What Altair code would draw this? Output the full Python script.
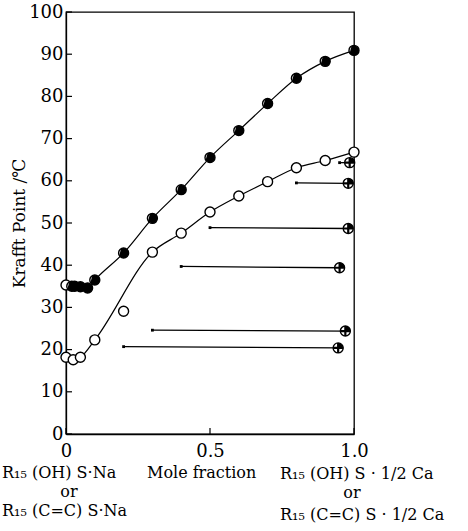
import altair as alt
import pandas as pd

# Krafft point vs. mole fraction of the calcium salt
upper_x = [0.0, 0.02, 0.03, 0.05, 0.075, 0.1, 0.2, 0.3, 0.4, 0.5, 0.6, 0.7, 0.8, 0.9, 1.0]
upper_t = [35.3, 35.0, 35.0, 34.9, 34.6, 36.5, 42.9, 51.1, 57.9, 65.5, 71.9, 78.3, 84.3, 88.3, 90.9]

lower_x = [0.0, 0.025, 0.05, 0.1, 0.2, 0.3, 0.4, 0.5, 0.6, 0.7, 0.8, 0.9, 1.0]
lower_t = [18.2, 17.6, 18.2, 22.3, 29.1, 43.1, 47.6, 52.6, 56.4, 59.8, 63.1, 64.8, 66.8]
lower_off_curve = [0.2]  # measured point not followed by the fitted curve

# horizontal tie lines: start (x0, t0) -> end marker (x1, t1)
tie_x0 = [0.95, 0.80, 0.50, 0.40, 0.30, 0.20]
tie_t0 = [64.3, 59.5, 48.9, 39.7, 24.6, 20.7]
tie_x1 = [0.985, 0.98, 0.98, 0.95, 0.97, 0.945]
tie_t1 = [64.3, 59.4, 48.7, 39.4, 24.4, 20.4]

y_ticks = list(range(0, 101, 10))
x_ticks = [0.0, 0.5, 1.0]

SERIF = "DejaVu Serif"
W, H = 288, 422

upper = pd.DataFrame({"x": upper_x, "t": upper_t})
lower = pd.DataFrame({"x": lower_x, "t": lower_t})
lower_curve = lower[~lower["x"].isin(lower_off_curve)]
ties = pd.DataFrame({"x0": tie_x0, "t0": tie_t0, "x1": tie_x1, "t1": tie_t1})

xs = alt.Scale(domain=[0, 1], nice=False, zero=False)
ys = alt.Scale(domain=[0, 100], nice=False)

x_axis = alt.Axis(values=x_ticks, labelExpr="datum.value == 0 ? '0' : format(datum.value, '.1f')",
                  title=None, ticks=False, grid=False, labelPadding=8, labelFlush=False,
                  labelFont=SERIF, labelFontSize=18, labelColor="black")
y_axis = alt.Axis(values=y_ticks, title="Krafft Point /℃", ticks=False, grid=False,
                  labelPadding=3, titlePadding=0, labelFont=SERIF, labelFontSize=18,
                  labelColor="black", titleFont=SERIF, titleFontSize=17,
                  titleFontWeight="normal", titleColor="black")

X = lambda f: alt.X(f, type="quantitative", scale=xs, axis=x_axis)
Y = lambda f: alt.Y(f, type="quantitative", scale=ys, axis=y_axis)

upper_line = alt.Chart(upper).mark_line(color="black", strokeWidth=1.2, interpolate="monotone").encode(
    x=X("x"), y=Y("t"))
lower_line = alt.Chart(lower_curve).mark_line(color="black", strokeWidth=1.2, interpolate="monotone").encode(
    x=X("x"), y=Y("t"))

tie_rules = alt.Chart(ties).mark_rule(color="black", strokeWidth=1.3).encode(
    x=X("x0"), x2="x1", y=Y("t0"), y2="t1")
tie_start = alt.Chart(ties).mark_point(shape="square", filled=True, color="black", size=8, opacity=1).encode(
    x=X("x0"), y=Y("t0"))

ring = dict(shape="circle", filled=True, fill="white", stroke="black", strokeWidth=1.4, size=100, opacity=1)

lower_pts = alt.Chart(lower).mark_point(**ring).encode(x=X("x"), y=Y("t"))

upper_ring = alt.Chart(upper).mark_point(**ring).encode(x=X("x"), y=Y("t"))
upper_fill = alt.Chart(upper[upper["x"] > 0]).mark_point(
    shape="M-0.5,-0.87A1,1 0 1,1 -0.87,0.5Z", filled=True, color="black", size=100, opacity=1
).encode(x=X("x"), y=Y("t"))

end_ring = alt.Chart(ties).mark_point(**ring).encode(x=X("x1"), y=Y("t1"))
end_cross = alt.Chart(ties).mark_point(
    shape="M-1,0L1,0M0,-1L0,1", filled=False, color="black", strokeWidth=2.2, size=100, opacity=1
).encode(x=X("x1"), y=Y("t1"))
end_fill = alt.Chart(ties).mark_point(
    shape="M0,-1A1,1 0 0,1 1,0L0,0Z", filled=True, color="black", size=100, opacity=1
).encode(x=X("x1"), y=Y("t1"))

# inward-pointing tick marks
ytick_df = pd.DataFrame({"t": y_ticks})
yticks = alt.Chart(ytick_df).mark_rule(color="black", strokeWidth=1.2).encode(
    y=Y("t"), x=alt.value(0), x2=alt.value(6))
xtick_df = pd.DataFrame({"x": x_ticks})
xticks = alt.Chart(xtick_df).mark_rule(color="black", strokeWidth=1.2).encode(
    x=X("x"), y=alt.value(H), y2=alt.value(H - 6))

# compound names under the x axis
labels = pd.DataFrame({
    "text": ["R₁₅ (OH) S·Na", "Mole  fraction", "R₁₅ (OH) S · 1/2 Ca",
             "or", "or", "R₁₅ (C=C) S·Na", "R₁₅ (C=C) S · 1/2 Ca"],
    "px": [-64, 81, 214, 3, 286, -64, 214],
    "py": [466, 466, 467, 485, 486, 504, 508],
    "al": ["left", "left", "left", "center", "center", "left", "left"],
})
caption = alt.layer(*[
    alt.Chart(labels.iloc[[i]]).mark_text(font=SERIF, fontSize=16, color="black",
                                          align=labels["al"][i], baseline="alphabetic").encode(
        x=alt.value(int(labels["px"][i])), y=alt.value(int(labels["py"][i])), text="text:N")
    for i in range(len(labels))
])

chart = alt.layer(
    upper_line, lower_line, tie_rules, tie_start,
    lower_pts, upper_ring, upper_fill, end_ring, end_fill, end_cross,
    yticks, xticks, caption,
).properties(
    width=W, height=H,
    background="white",
    autosize=alt.AutoSizeParams(type="none"),
    padding={"left": 66, "top": 12, "right": 468 - 66 - W, "bottom": 531 - 12 - H},
).configure_view(
    stroke="black", strokeWidth=1.3
).configure_axis(
    domainColor="black", domainWidth=1.3,
)

chart.save("out.html", embed_options={"renderer": "svg", "actions": False})
